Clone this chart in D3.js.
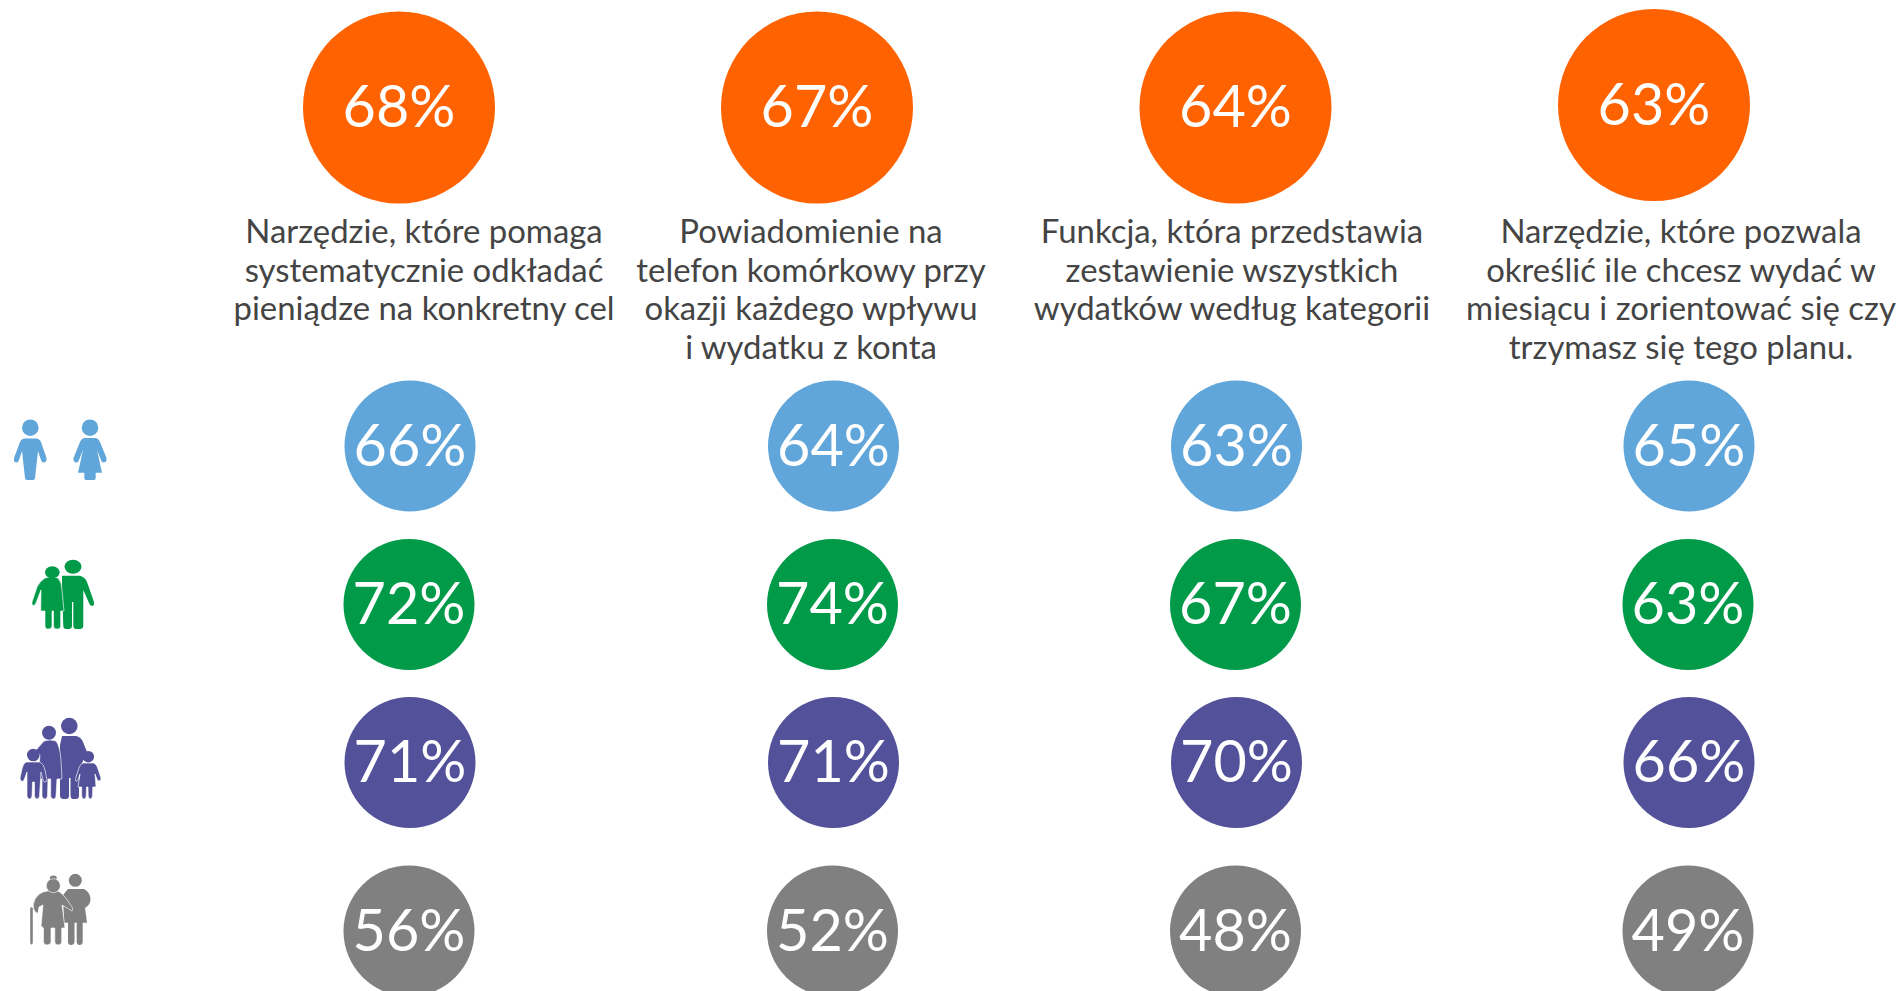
<!DOCTYPE html>
<html><head><meta charset="utf-8">
<script src="https://cdn.jsdelivr.net/npm/d3@7"></script>
<style>html,body{margin:0;background:#fff;overflow:hidden}text{font-family:Lato,"Noto Sans",sans-serif}</style>
</head><body><svg id="c" width="1900" height="991"></svg>
<script>
const features=["f1","f2","f3","f4"];
const groups=["Ogółem","Małżeństwo","Rodzina","Seniorzy"];
const totals=[68,67,64,63];
const rowSingles=[66,64,63,65];
const rowCouples=[72,74,67,63];
const rowFamilies=[71,71,70,66];
const rowSeniors=[56,52,48,49];
const captions=[
 ["Narzędzie, które pomaga","systematycznie odkładać","pieniądze na konkretny cel"],
 ["Powiadomienie na","telefon komórkowy przy","okazji każdego wpływu","i wydatku z konta"],
 ["Funkcja, która przedstawia","zestawienie wszystkich","wydatków według kategorii"],
 ["Narzędzie, które pozwala","określić ile chcesz wydać w","miesiącu i zorientować się czy","trzymasz się tego planu."]
];
const rows=[rowSingles,rowCouples,rowFamilies,rowSeniors];
const rowColors=["#60A6DA","#009A48","#525199","#808080"];

const svg=d3.select("#c");
const xTop=d3.scaleOrdinal(features,[399,817,1235.5,1654]);
const yTop=d3.scaleOrdinal(features,[107.5,107.5,107.5,105]);
const xCap=d3.scaleOrdinal(features,[424,811,1232,1681]);
const xRow=d3.scaleOrdinal(features,[410,833.5,1236.5,1689]);
const yRow=d3.scaleOrdinal(groups,[446,604.5,762.5,931]);
const xOff=d3.scaleOrdinal(groups,[0,-1,0,-1]);

const topG=svg.selectAll("g.t").data(features).join("g").attr("class","t")
 .attr("transform",d=>`translate(${xTop(d)},${yTop(d)})`);
topG.append("circle").attr("r",96).attr("fill","#FF6200");
topG.append("text").attr("text-anchor","middle").attr("y",19.5).attr("font-size",57.5).attr("font-weight",400).attr("fill","#fff")
 .text((d,i)=>totals[i]+"%");

features.forEach((f,i)=>{
 svg.append("g").selectAll("text").data(captions[i]).join("text")
  .attr("x",xCap(f)).attr("y",(d,j)=>243+j*38.7)
  .attr("text-anchor","middle").attr("font-size",32.9).attr("font-weight",400).attr("fill","#444")
  .text(d=>d);
});

groups.forEach((g,r)=>{
 const gg=svg.append("g").selectAll("g").data(features).join("g")
  .attr("transform",d=>`translate(${xRow(d)+xOff(g)},${yRow(g)})`);
 gg.append("circle").attr("r",65.5).attr("fill",rowColors[r]);
 gg.append("text").attr("text-anchor","middle").attr("y",19.5).attr("font-size",57.5).attr("font-weight",400).attr("fill","#fff")
  .text((d,i)=>rows[r][i]+"%");
});

// pictograms
const ic=svg.append("g");
function head(x,y,rx,ry,c){ic.append("ellipse").attr("cx",x).attr("cy",y).attr("rx",rx).attr("ry",ry||rx).attr("fill",c);}
function body(d,c,outline){const p=ic.append("path").attr("d",d).attr("fill",c);if(outline)p.attr("stroke","#fff").attr("stroke-width",.8).attr("stroke-opacity",.8);}
let c=rowColors[0];
head(30.3,427.7,8.3,8.3,c);
body("M24 438.5L37 438.5Q40 439 41 442L46.5 458Q47 462 44 462.5Q42 463 41 460L38 451L35 478Q35 480 33 480L27 480Q25 480 25 478L22 451L19 460Q18 463 16 462.5Q13.5 462 14 458L20 442Q21 439 24 438.5Z",c);
head(90,427.7,8.3,8.3,c);
body("M84 438L96 438Q99 439 100 442L106.5 458Q107 462 104 462.5Q102 463 101 460L97 450L102 472.7L95.7 472.7L95.7 478Q95.7 480 93.7 480L86.3 480Q84.3 480 84.3 478L84.3 472.7L78 472.7L83 450L79 460Q78 463 76 462.5Q73 462 73.5 458L80 442Q81 439 84 438Z",c);
c=rowColors[1];
head(73,566.7,8.5,7,c);
body("M62 575.7L80 575.7Q85 577 87 582L94 602Q94.5 606 92 606Q90 606 89 603L83.3 590L83.3 626Q83 629 80 629L76 629Q73.5 629 73.3 626L73.3 602L72 602L72 626Q71.7 629 69 629L66 629Q63.5 629 63.3 626L62 590Z",c);
body("M45 578Q52 575 58 578Q62 582 62 590L64 611L60.7 611L60.7 626Q60.5 629 58 629L56 629Q54 629 53.5 626L53.5 611L52 611L52 626Q51.7 629 49 629L47.5 629Q45.2 629 45 626L45 611L40.7 611L41 590L36 603Q35 606 33 605.5Q31.5 605 32 602L37 587Q40 581 45 578Z",c,true);
head(52.3,572.3,7.3,6,c);
c=rowColors[2];
head(69.3,726,8.3,8.3,c);
body("M62 736L76 736Q81 737 83 742L87 752L79 770L79 796Q78.8 799 76 799L73 799Q71 799 70.5 796L70.5 778L69 778L69 796Q68.8 799 66 799L63 799Q60.5 799 60 796L60 745Z",c);
body("M44 741Q50 739 56 741Q60 746 61 760L62 779L57 779L56 796Q55.8 799 53.5 799Q51 799 50.7 796L50.7 779L48 779L47.5 796Q47 799 45 799Q42.5 799 42 796L42 779L38 779L40 755L36 750Z",c,true);
head(49,732.7,7,7,c);
body("M26 762L40 762Q44 764 45 770L47 780Q47 782 45 782Q43.5 782 43 780L41 772L39.5 796Q39.2 799 37 799Q35 799 34.5 796L34.5 782L32.5 782L32 796Q31.7 799 29.5 799Q27.5 799 27 796L27 772L24 780Q23 782 21.5 781Q20 780.5 20 778L22 769Q23 764 26 762Z",c,true);
head(33.3,755,6.3,6.3,c);
body("M83 763L94 763Q97 765 98 769L101 778Q101 781 99 781Q97.5 781 97 779L95 774L96 787L92.8 787L92.5 796Q92 799 90 799Q88.5 799 88.2 796L88 787L86.5 787L86.2 796Q86 799 84 799Q82 799 81.7 796L81.7 787L78 787L80 774L78 780Q77 782 76 781Q75 780 76 777L79 768Q80 764 83 763Z",c,true);
head(88.3,756.7,5.8,5.8,c);
c=rowColors[3];
body("M30.2 908Q31.5 906.5 32.8 908L32.8 943Q31.5 946 30.2 943Z",c);
head(75.3,880.3,6.5,6.5,c);
body("M68 889L84 889Q90 892 90.5 899Q90.5 905 85 908L87 922.7L82.7 922.7L82.7 942Q82.5 945 79.5 945Q77 945 76.7 942L76.7 922.7L74.5 922.7L74.5 942Q74 945 71 945Q68.3 945 68 942L68 922.7L64 922.7L63 895Z",c);
body("M43 892Q53 889 60 892Q66 897 70 904Q74 909 72 911L62 905L65 928L61.7 928L61.7 942Q61.4 945 58 945Q55 945 54.8 942L54.8 928L51 928L51 942Q50.7 945 47 945Q43.8 945 43.5 942L43.5 928L41 926L43 905L39 907L38 913Q36 914 34 910Q32 905 35 899Q38 894 43 892Z",c,true);
head(53.3,878,3.5,2.5,c);
ic.append("ellipse").attr("cx",53.3).attr("cy",885.7).attr("rx",7).attr("ry",7).attr("fill",c).attr("stroke","#fff").attr("stroke-width",.6);
</script></body></html>
